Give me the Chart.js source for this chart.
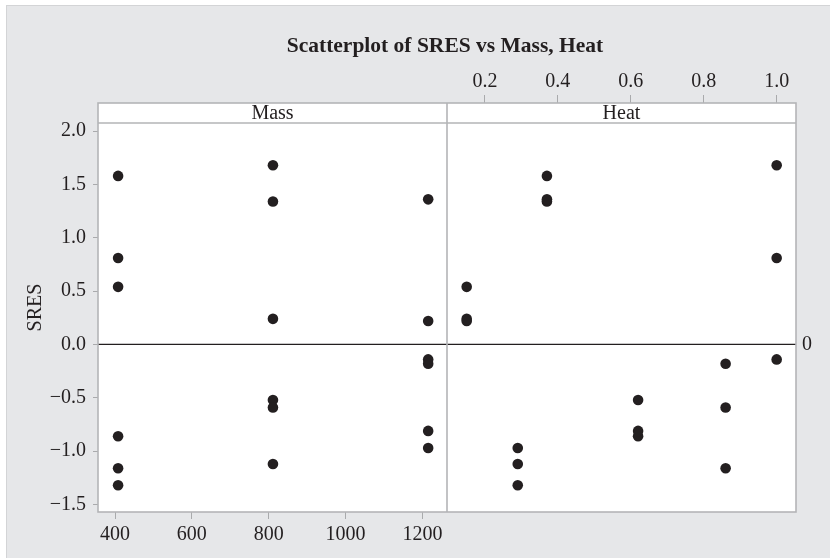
<!DOCTYPE html>
<html lang="en">
<head>
<meta charset="utf-8">
<title>Scatterplot of SRES vs Mass, Heat</title>
<script src="https://cdn.jsdelivr.net/npm/chart.js@4.4.1/dist/chart.umd.min.js"></script>
<style>
  html, body { margin: 0; padding: 0; background: #ffffff; }
  #lienzo { position: relative; width: 830px; height: 559px; overflow: hidden; }
  #fondo {
    position: absolute; left: 6px; top: 5px; right: 0; bottom: 1px;
    background: #e6e7e9;
    border-top: 1px solid #d3d4d6; border-left: 1px solid #d3d4d6;
  }
  #chartSres { position: absolute; left: 0; top: 0; }
</style>
</head>
<body>
<div id="lienzo">
  <div id="fondo"></div>
  <canvas id="chartSres" width="830" height="559"></canvas>
</div>
<script>
const mass = [408, 408, 408, 408, 408, 408,
              811, 811, 811, 811, 811, 811,
              1215, 1215, 1215, 1215, 1215, 1215];
const heat = [0.37, 1.0, 0.15, 0.62, 0.86, 0.29,
              1.0, 0.37, 0.15, 0.62, 0.86, 0.29,
              0.37, 0.15, 1.0, 0.86, 0.62, 0.29];
const sres = [1.58, 0.81, 0.54, -0.86, -1.16, -1.32,
              1.68, 1.34, 0.24, -0.52, -0.59, -1.12,
              1.36, 0.22, -0.14, -0.18, -0.81, -0.97];

// --- Tick labels and panel names ---
const massTicks = [400, 600, 800, 1000, 1200];
const heatTicks = [0.2, 0.4, 0.6, 0.8, 1.0];
const sresTicks = [-1.5, -1.0, -0.5, 0.0, 0.5, 1.0, 1.5, 2.0];
const panelNames = ['Mass', 'Heat'];
const chartTitle = 'Scatterplot of SRES vs Mass, Heat';

// --- Visible axis ranges (the top 20px of the y range is the panel strip) ---
const massRange = [355.7, 1264];
const heatRange = [0.096, 1.053];
const sresRange = [-1.57, 2.263];

const FONT = "'Liberation Serif', 'DejaVu Serif', serif";
const TEXT = '#231f20';
const FRAME = '#b4b5b7';
const TICK = '#a9aaac';
const STRIP_H = 20;

Chart.defaults.font.family = FONT;
Chart.defaults.font.size = 20;
Chart.defaults.color = TEXT;

function fmtSres(v) {
    const s = Math.abs(v).toFixed(1);
    return v < 0 ? '\u2212' + s : s;
}

// --- Plugin: white panels, strips, frame, zero line and title ---
const panelFrame = {
    id: 'panelFrame',
    beforeDatasetsDraw(chart) {
        const { ctx, chartArea: a, scales } = chart;
        const split = scales.x.right;
        const stripBottom = a.top + STRIP_H;
        ctx.save();

        ctx.fillStyle = '#ffffff';
        ctx.fillRect(a.left, a.top, a.width, a.height);

        // reference line at SRES = 0
        const y0 = scales.y.getPixelForValue(0);
        ctx.strokeStyle = TEXT;
        ctx.lineWidth = 1.3;
        ctx.beginPath();
        ctx.moveTo(a.left, y0);
        ctx.lineTo(a.right, y0);
        ctx.stroke();

        // frame, panel divider, strip line
        ctx.strokeStyle = FRAME;
        ctx.lineWidth = 1.6;
        ctx.strokeRect(a.left, a.top, a.width, a.height);
        ctx.beginPath();
        ctx.moveTo(split, a.top);
        ctx.lineTo(split, a.bottom);
        ctx.moveTo(a.left, stripBottom);
        ctx.lineTo(a.right, stripBottom);
        ctx.stroke();

        // strip labels
        ctx.fillStyle = TEXT;
        ctx.textAlign = 'center';
        ctx.textBaseline = 'middle';
        ctx.font = '20px ' + FONT;
        ctx.fillText(panelNames[0], (scales.x.left + scales.x.right) / 2, a.top + 11);
        ctx.fillText(panelNames[1], (scales.x2.left + scales.x2.right) / 2, a.top + 11);

        // title
        ctx.font = 'bold 21.5px ' + FONT;
        ctx.fillText(chartTitle, (a.left + a.right) / 2 - 2, 46);
        ctx.restore();
    }
};

const puntos = (xs) => xs.map((x, i) => ({ x: x, y: sres[i] }));

const dotStyle = {
    pointRadius: 5.3,
    pointHoverRadius: 5.3,
    pointBackgroundColor: TEXT,
    pointBorderWidth: 0,
    showLine: false
};

new Chart(document.getElementById('chartSres'), {
    type: 'scatter',
    data: {
        datasets: [
            Object.assign({ label: 'Mass', data: puntos(mass), xAxisID: 'x', yAxisID: 'y' }, dotStyle),
            Object.assign({ label: 'Heat', data: puntos(heat), xAxisID: 'x2', yAxisID: 'y' }, dotStyle)
        ]
    },
    options: {
        responsive: false,
        animation: false,
        layout: { padding: { top: 60, left: 0, right: 0, bottom: 0 } },
        plugins: {
            legend: { display: false },
            tooltip: { enabled: false },
            title: { display: false }
        },
        scales: {
            y: {
                type: 'linear',
                position: 'left',
                min: sresRange[0],
                max: sresRange[1],
                afterBuildTicks: s => { s.ticks = sresTicks.map(v => ({ value: v })); },
                afterFit: s => { s.width = 98; },
                ticks: { padding: 7, autoSkip: false, callback: v => fmtSres(v) },
                grid: { drawOnChartArea: false, tickLength: 5, color: TICK },
                border: { display: false },
                title: { display: true, text: 'SRES', padding: { top: 24, bottom: 0 }, font: { size: 20 } }
            },
            yRef: {
                type: 'linear',
                position: 'right',
                min: sresRange[0],
                max: sresRange[1],
                afterBuildTicks: s => { s.ticks = [{ value: 0 }]; },
                afterFit: s => { s.width = 34; },
                ticks: { padding: 6, callback: () => '0' },
                grid: { display: false, drawTicks: false },
                border: { display: false }
            },
            // bottom row: Mass axis on the left panel, blank on the right
            x: {
                type: 'linear',
                position: 'bottom',
                stack: 'panels',
                weight: 1,
                min: massRange[0],
                max: massRange[1],
                afterBuildTicks: s => { s.ticks = massTicks.map(v => ({ value: v })); },
                afterFit: s => { s.height = 47; },
                ticks: { padding: 4, autoSkip: false, maxRotation: 0, minRotation: 0, callback: v => String(v) },
                grid: { drawOnChartArea: false, tickLength: 7, color: TICK },
                border: { display: false }
            },
            xPadBottom: {
                type: 'linear',
                position: 'bottom',
                stack: 'panels',
                weight: 2,
                afterFit: s => { s.height = 47; },
                ticks: { display: false },
                grid: { display: false, drawTicks: false },
                border: { display: false }
            },
            // top row: blank on the left panel, Heat axis on the right
            xPadTop: {
                type: 'linear',
                position: 'top',
                stack: 'panels',
                weight: 2,
                afterFit: s => { s.height = 43; },
                ticks: { display: false },
                grid: { display: false, drawTicks: false },
                border: { display: false }
            },
            x2: {
                type: 'linear',
                position: 'top',
                stack: 'panels',
                weight: 1,
                min: heatRange[0],
                max: heatRange[1],
                afterBuildTicks: s => { s.ticks = heatTicks.map(v => ({ value: v })); },
                afterFit: s => { s.height = 43; },
                ticks: { padding: 1, autoSkip: false, maxRotation: 0, minRotation: 0, callback: v => v.toFixed(1) },
                grid: { drawOnChartArea: false, tickLength: 8, color: TICK },
                border: { display: false }
            }
        }
    },
    plugins: [panelFrame]
});
</script>
</body>
</html>
